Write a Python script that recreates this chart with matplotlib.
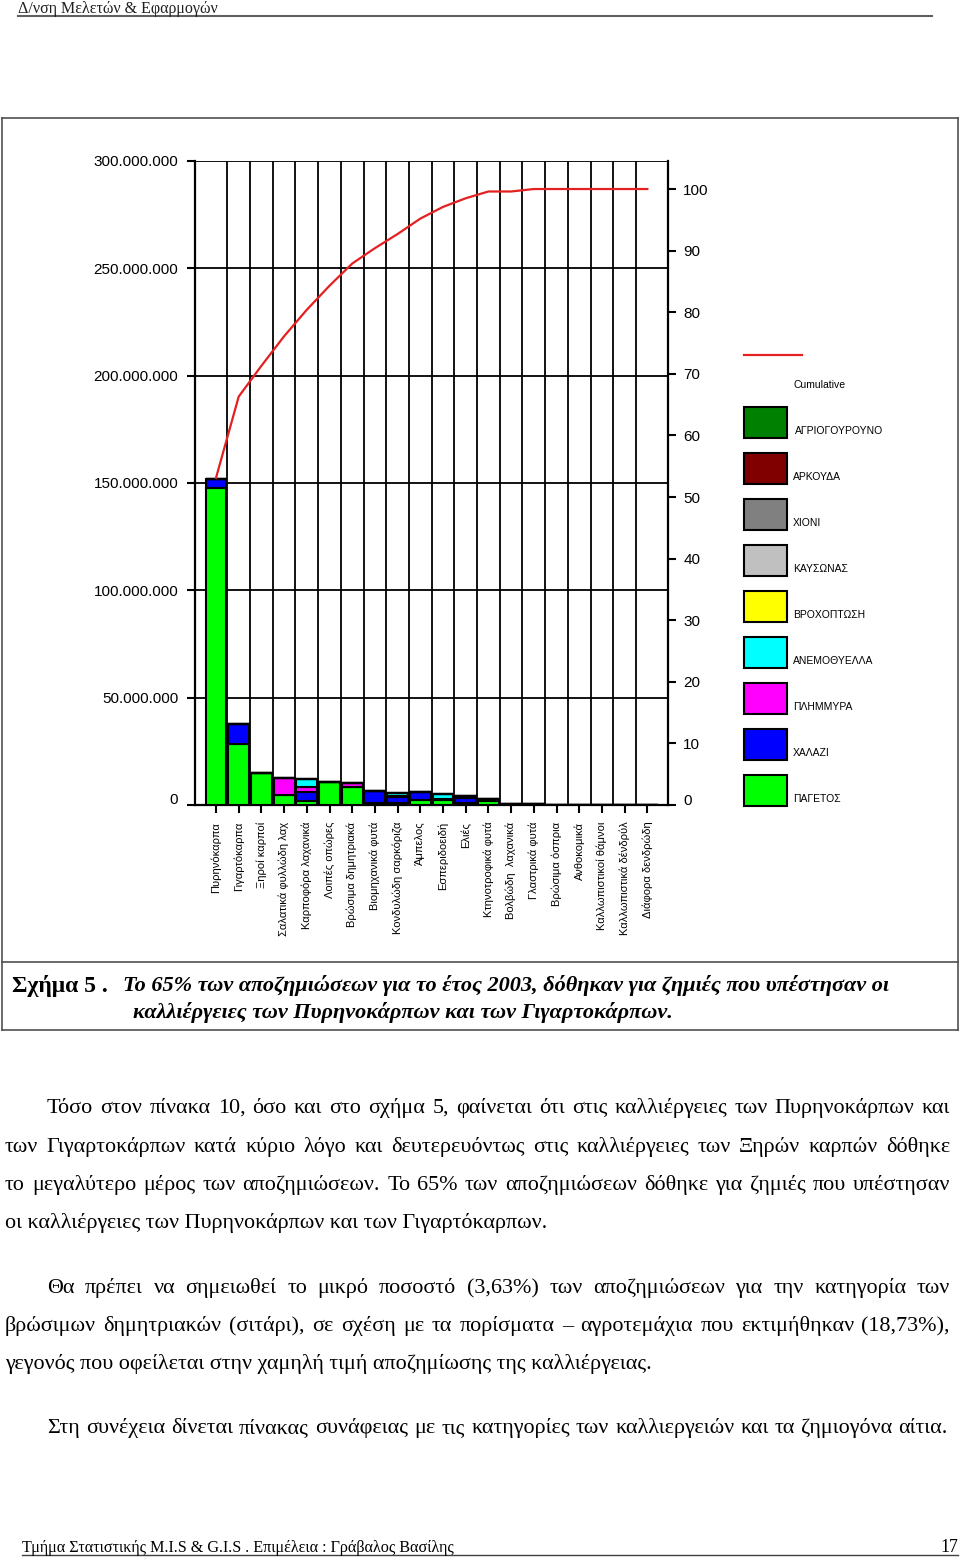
import matplotlib
matplotlib.use('Agg')
import matplotlib.pyplot as plt
import numpy as np
from matplotlib.lines import Line2D
from matplotlib.patches import Rectangle
from matplotlib.ticker import FuncFormatter, FixedLocator
from matplotlib.transforms import ScaledTranslation

W, H = 960, 1559

# ---------------- data ----------------
categories = ['Πυρηνόκαρπα', 'Γιγαρτόκαρπα', 'Ξηροί καρποί', 'Σαλατικά φυλλώδη λαχ',
              'Καρποφόρα λαχανικά', 'Λοιπές οπώρες', 'Βρώσιμα δημητριακά', 'Βιομηχανικά φυτά',
              'Κονδυλώδη σαρκόριζα', 'Άμπελος', 'Εσπεριδοειδή', 'Ελιές', 'Κτηνοτροφικά φυτά',
              'Βολβώδη  λαχανικά', 'Γλαστρικά φυτά', 'Βρώσιμα όσπρια', 'Ανθοκομικά',
              'Καλλωπιστικοί θάμνοι', 'Καλλωπιστικά δένδρύλ', 'Διάφορα δενδρώδη']

series_names = ['ΠΑΓΕΤΟΣ', 'ΧΑΛΑΖΙ', 'ΠΛΗΜΜΥΡΑ', 'ΑΝΕΜΟΘΥΕΛΛΑ', 'ΒΡΟΧΟΠΤΩΣΗ',
                'ΚΑΥΣΩΝΑΣ', 'ΧΙΟΝΙ', 'ΑΡΚΟΥΔΑ', 'ΑΓΡΙΟΓΟΥΡΟΥΝΟ']
series_colors = ['#00FF00', '#0000FF', '#FF00FF', '#00FFFF', '#FFFF00',
                 '#C0C0C0', '#808080', '#800000', '#008000']

# values in millions
pagetos       = [147.5, 28.5, 14.8, 4.8, 2.0, 10.8, 8.3, 0.8, 1.0, 2.3, 2.4, 0.8, 1.8, 0.6, 0.5, 0, 0, 0, 0, 0]
chalazi       = [4.5, 9.3, 0, 0, 4.2, 0, 0, 5.6, 2.5, 3.7, 0.5, 2.4, 1.0, 0, 0, 0, 0, 0, 0, 0]
plimmyra      = [0, 0, 0, 7.8, 2.4, 0, 2.0, 0, 0.5, 0, 0, 0.8, 0, 0, 0, 0, 0, 0, 0, 0]
anemothyella  = [0, 0, 0, 0, 3.3, 0, 0, 0, 1.5, 0, 2.3, 0, 0, 0, 0, 0, 0, 0, 0, 0]
vrochoptosi   = [0] * 20
kausonas      = [0] * 20
chioni        = [0] * 20
arkouda       = [0] * 20
agriogourouno = [0] * 20
series_values = [pagetos, chalazi, plimmyra, anemothyella, vrochoptosi,
                 kausonas, chioni, arkouda, agriogourouno]

cumulative_pct = [53.1, 66.3, 71.3, 76.1, 80.4, 84.3, 87.9, 90.4, 92.7, 95.2,
                  97.1, 98.5, 99.6, 99.6, 100, 100, 100, 100, 100, 100]

left_ticks = [0, 50e6, 100e6, 150e6, 200e6, 250e6, 300e6]
right_ticks = [0, 10, 20, 30, 40, 50, 60, 70, 80, 90, 100]

# ---------------- figure ----------------
fig = plt.figure(figsize=(W / 100, H / 100), dpi=100)
SANS = ['Liberation Sans', 'DejaVu Sans']
SERIF = ['Liberation Serif', 'DejaVu Serif']


def fx(x):
    return x / W


def fy(y):
    return 1 - y / H


ax = fig.add_axes([fx(195), fy(805), (668 - 195) / W, (805 - 161) / H])
x = np.arange(len(categories))
bottom = np.zeros(len(categories))
for name, col, vals in zip(series_names, series_colors, series_values):
    v = np.array(vals) * 1e6
    ax.bar(x, v, bottom=bottom, width=0.92, color=col, edgecolor='black',
           linewidth=1.5, zorder=3, label=name)
    bottom += v

ax.set_xlim(-0.925, 19.91)
ax.set_ylim(0, 300e6)
ax.yaxis.set_major_locator(FixedLocator(left_ticks))
ax.yaxis.set_major_formatter(FuncFormatter(lambda v, p: f"{v:,.0f}".replace(',', '.')))
ax.set_xticks(x)
ax.set_xticklabels(categories, rotation=90, fontsize=8, family=SANS, va='top', ha='center')
ax.xaxis.set_minor_locator(FixedLocator(np.arange(0.5, 19, 1.0)))
ax.grid(True, which='major', axis='y', color='black', linewidth=1.3, zorder=0)
ax.grid(True, which='minor', axis='x', color='black', linewidth=1.3, zorder=0)
ax.set_axisbelow(True)
ax.tick_params(axis='x', which='minor', length=0)
ax.tick_params(axis='x', which='major', direction='out', length=6, width=1.5, pad=6)
ax.tick_params(axis='y', direction='out', length=6, width=1.5, pad=6, labelsize=11)
for lab in ax.get_yticklabels():
    lab.set_family(SANS)
for s in ['top', 'right']:
    ax.spines[s].set_visible(False)
for s in ['left', 'bottom']:
    ax.spines[s].set_linewidth(1.6)

ax2 = ax.twinx()
ax2.plot(x, cumulative_pct, color='#E42020', linewidth=1.6, zorder=5)
ax2.set_ylim(0, 104.55)
ax2.yaxis.set_major_locator(FixedLocator(right_ticks))
ax2.tick_params(axis='y', direction='out', length=6, width=1.5, pad=5, labelsize=11)
for lab in ax2.get_yticklabels():
    lab.set_family(SANS)
for s in ['top', 'left', 'bottom']:
    ax2.spines[s].set_visible(False)
ax2.spines['right'].set_linewidth(1.6)

# the "0" labels sit slightly above their ticks in the reference
lift = ScaledTranslation(0, 6 / 100, fig.dpi_scale_trans)
t0 = ax.yaxis.get_major_ticks()[0].label1
t0.set_transform(t0.get_transform() + lift)
t1 = ax2.yaxis.get_major_ticks()[0].label2
t1.set_transform(t1.get_transform() + lift)

# ---------------- legend (manual) ----------------
fig.add_artist(Line2D([fx(744), fx(802)], [fy(355), fy(355)], color='#E42020', lw=1.6,
                      transform=fig.transFigure))
fig.text(fx(793), fy(385), 'Cumulative', fontsize=7.5, family=SANS, va='center', ha='left')
leg_order = list(range(len(series_names)))[::-1]
for k, idx in enumerate(leg_order):
    top = 407 + 46 * k
    fig.add_artist(Rectangle((fx(744), fy(top + 31)), 43 / W, 31 / H, transform=fig.transFigure,
                             facecolor=series_colors[idx], edgecolor='black', lw=1.5))
    fig.text(fx(795 if k == 0 else 793), fy(431 + 46 * k), series_names[idx], fontsize=7.5,
             family=SANS, va='center', ha='left')

# ---------------- page frame ----------------
frame_col = '#505050'
for (x0, y0, x1, y1) in [(2, 118, 958, 118), (2, 962, 958, 962), (2, 1030, 958, 1030),
                         (2, 118, 2, 1030), (958, 118, 958, 1030)]:
    fig.add_artist(Line2D([fx(x0), fx(x1)], [fy(y0), fy(y1)], color=frame_col, lw=1.2,
                          transform=fig.transFigure))

renderer = fig.canvas.get_renderer()


def text_width(s, **kw):
    t = fig.text(0, 0, s, **kw)
    w = t.get_window_extent(renderer).width
    t.remove()
    return w


def fit_size(s, target, base=14, **kw):
    w = text_width(s, fontsize=base, **kw)
    return base * target / w


def justified(line, x0, x1, yb, fs, **kw):
    words = line.split()
    widths = [text_width(w_, fontsize=fs, **kw) for w_ in words]
    gap = (x1 - x0 - sum(widths)) / (len(words) - 1)
    xc = x0
    for w_, wd in zip(words, widths):
        fig.text(fx(xc), fy(yb), w_, fontsize=fs, va='baseline', ha='left', **kw)
        xc += wd + gap


# header
hs = fit_size('Δ/νση Μελετών & Εφαρμογών', 201, family=SERIF)
fig.text(fx(18), fy(13), 'Δ/νση Μελετών & Εφαρμογών', fontsize=hs, family=SERIF,
         va='baseline', ha='left', color='#202020')
fig.add_artist(Line2D([fx(18), fx(932)], [fy(16), fy(16)], color='#606060', lw=1.5,
                      transform=fig.transFigure))

# caption
cap1 = 'Το 65% των αποζημιώσεων για το έτος 2003, δόθηκαν για ζημιές που υπέστησαν οι'
cap2 = 'καλλιέργειες των Πυρηνοκάρπων και των Γιγαρτοκάρπων.'
cs = fit_size(cap1, 770, family=SERIF, style='italic', weight='bold')
fig.text(fx(123), fy(991), cap1, fontsize=cs, family=SERIF, style='italic', weight='bold',
         va='baseline', ha='left')
fig.text(fx(133), fy(1018), cap2, fontsize=cs, family=SERIF, style='italic', weight='bold',
         va='baseline', ha='left')
ss = fit_size('Σχήμα 5 .', 96, family=SERIF, weight='bold')
fig.text(fx(12), fy(992), 'Σχήμα 5 .', fontsize=ss, family=SERIF, weight='bold',
         va='baseline', ha='left')

# body
last1 = 'οι καλλιέργειες των Πυρηνοκάρπων και των Γιγαρτόκαρπων.'
bs = fit_size(last1, 548, family=SERIF)
p1 = ['Τόσο στον πίνακα 10, όσο και στο σχήμα 5, φαίνεται ότι στις καλλιέργειες των Πυρηνοκάρπων  και',
      'των Γιγαρτοκάρπων κατά κύριο λόγο και δευτερευόντως στις καλλιέργειες των Ξηρών καρπών δόθηκε',
      'το μεγαλύτερο μέρος των αποζημιώσεων. Το 65% των αποζημιώσεων δόθηκε για ζημιές που υπέστησαν']
p2 = ['Θα πρέπει να σημειωθεί το μικρό ποσοστό (3,63%) των αποζημιώσεων για την κατηγορία των',
      'βρώσιμων δημητριακών (σιτάρι), σε σχέση με τα πορίσματα – αγροτεμάχια που εκτιμήθηκαν (18,73%),']
last2 = 'γεγονός που οφείλεται στην χαμηλή τιμή αποζημίωσης της καλλιέργειας.'
p3 = 'Στη συνέχεια δίνεται πίνακας συνάφειας με τις κατηγορίες των καλλιεργειών και τα ζημιογόνα αίτια.'

ys1 = [1113, 1152, 1190]
for i, (line, yb) in enumerate(zip(p1, ys1)):
    justified(line, 47 if i == 0 else 5, 950, yb, bs, family=SERIF)
fig.text(fx(5), fy(1228), last1, fontsize=bs, family=SERIF, va='baseline', ha='left')
ys2 = [1293, 1331]
for i, (line, yb) in enumerate(zip(p2, ys2)):
    justified(line, 47 if i == 0 else 5, 950, yb, bs, family=SERIF)
fig.text(fx(5), fy(1369), last2, fontsize=bs, family=SERIF, va='baseline', ha='left')
justified(p3, 47, 948, 1433, bs, family=SERIF)

# footer
foot = 'Τμήμα Στατιστικής M.I.S & G.I.S . Επιμέλεια : Γράβαλος Βασίλης'
fs_ = fit_size(foot, 436, family=SERIF)
fig.text(fx(22), fy(1552), foot, fontsize=fs_, family=SERIF, va='baseline', ha='left')
fig.text(fx(958), fy(1552), '17', fontsize=fs_ * 1.1, family=SERIF, va='baseline', ha='right')
fig.add_artist(Line2D([fx(22), fx(958)], [fy(1555), fy(1555)], color='#404040', lw=1.0,
                      transform=fig.transFigure))

fig.savefig('out.png', dpi=100)
